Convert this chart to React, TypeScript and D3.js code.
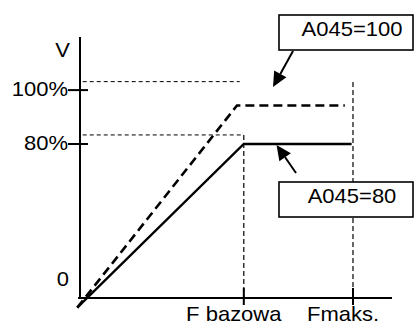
import React from "react";
import * as d3 from "d3";

// ---- data ----
const xTickLabels = ["F bazowa", "Fmaks."];
const xTickValues = [60, 100];
const yTickLabels = ["0", "80%", "100%"];
const yTickValues = [0, 80, 108];
const seriesA80: [number, number][] = [[-1, -5], [60, 80], [99.5, 80]];
const seriesA100: [number, number][] = [[-1, -5], [57.5, 100], [97, 100]];
const hGuideValues = [112.4, 84.7];
const hGuideEnds = [58.5, 60];
const vGuideValues = [60, 100];
const vGuideTops = [84.7, 112.2];
const calloutLabels = ["A045=100", "A045=80"];

const W = 414, H = 330;
const x = d3.scaleLinear().domain([0, 100]).range([80, 353]);
const y = d3.scaleLinear().domain([0, 80]).range([298, 144]);
const line = d3.line<[number, number]>().x(d => x(d[0])).y(d => y(d[1]));

const FONT = "'Liberation Sans', Arial, sans-serif";

function Txt({ x: tx, y: ty, anchor, children }: any) {
  return (
    <text transform={`translate(${tx},${ty}) scale(1.1,1)`} textAnchor={anchor}
      fontFamily={FONT} fontSize={20} fill="#000">{children}</text>
  );
}

function Arrow({ x1, y1, x2, y2 }: any) {
  const dx = x2 - x1, dy = y2 - y1;
  const len = Math.hypot(dx, dy);
  const ux = dx / len, uy = dy / len;
  const hl = 15, hw = 7;
  const bx = x2 - ux * hl, by = y2 - uy * hl;
  const pts = [[x2, y2], [bx - uy * hw, by + ux * hw], [bx + uy * hw, by - ux * hw]];
  return (
    <g>
      <line x1={x1} y1={y1} x2={bx} y2={by} stroke="#000" strokeWidth={2} />
      <polygon points={pts.map(p => p.join(",")).join(" ")} fill="#000" />
    </g>
  );
}

export default function App() {
  const boxes = [
    { x0: 279, y0: 15, y1: 50, tx: 352, ty: 36, ax: 293, ay: 51, tipF: 70.7, tipV: 109.6 },
    { x0: 279, y0: 182, y1: 217, tx: 352, ty: 203, ax: 296, ay: 173, tipF: 72, tipV: 79.5 },
  ];
  return (
    <svg width={W} height={H} style={{ position: "absolute", left: 0, top: 0, background: "#fff" }}>
      <rect width={W} height={H} fill="#fff" />
      {/* horizontal thin guides */}
      {hGuideValues.map((v, i) => (
        <line key={"hg" + i} x1={x(1)} x2={x(hGuideEnds[i])} y1={y(v)} y2={y(v)}
          stroke="#000" strokeWidth={1} strokeDasharray="4,3" />
      ))}
      {/* vertical guides */}
      <line x1={x(vGuideValues[0])} x2={x(vGuideValues[0])} y1={y(vGuideTops[0])} y2={y(0)}
        stroke="#000" strokeWidth={1.2} strokeDasharray="5,3" />
      <line x1={x(vGuideValues[1])} x2={x(vGuideValues[1])} y1={y(vGuideTops[1])} y2={y(0)}
        stroke="#666" strokeWidth={2} strokeDasharray="5,3" />
      {/* axes */}
      <line x1={80} x2={80} y1={37} y2={y(0)} stroke="#000" strokeWidth={2} />
      <line x1={78} x2={392} y1={y(0)} y2={y(0)} stroke="#000" strokeWidth={2} />
      {/* y ticks */}
      {yTickValues.map((v, i) => (
        <g key={"yt" + i}>
          {v !== 0 && <line x1={68} x2={88} y1={y(v)} y2={y(v)} stroke="#000" strokeWidth={2} />}
          <Txt x={v === 0 ? 69 : 68} y={v === 0 ? 286 : y(v) + 5.5} anchor="end">{yTickLabels[i]}</Txt>
        </g>
      ))}
      <Txt x={70} y={57} anchor="end">V</Txt>
      {/* x ticks */}
      {xTickValues.map((f, i) => (
        <g key={"xt" + i}>
          <line x1={x(f)} x2={x(f)} y1={288} y2={305} stroke="#000" strokeWidth={2} />
          <Txt x={x(f) - 10} y={321} anchor="middle">{xTickLabels[i]}</Txt>
        </g>
      ))}
      {/* series */}
      <path d={line(seriesA100) || ""} fill="none" stroke="#000" strokeWidth={2.6} strokeDasharray="9,5" />
      <path d={line(seriesA80) || ""} fill="none" stroke="#000" strokeWidth={2.3} />
      {/* callouts */}
      {boxes.map((b, i) => (
        <g key={"cb" + i}>
          <rect x={b.x0} y={b.y0} width={W - 1 - b.x0} height={b.y1 - b.y0} fill="#fff" stroke="#000" strokeWidth={1.6} />
          <Txt x={b.tx} y={b.ty} anchor="middle">{calloutLabels[i]}</Txt>
          <Arrow x1={b.ax} y1={b.ay} x2={x(b.tipF)} y2={y(b.tipV)} />
        </g>
      ))}
    </svg>
  );
}
